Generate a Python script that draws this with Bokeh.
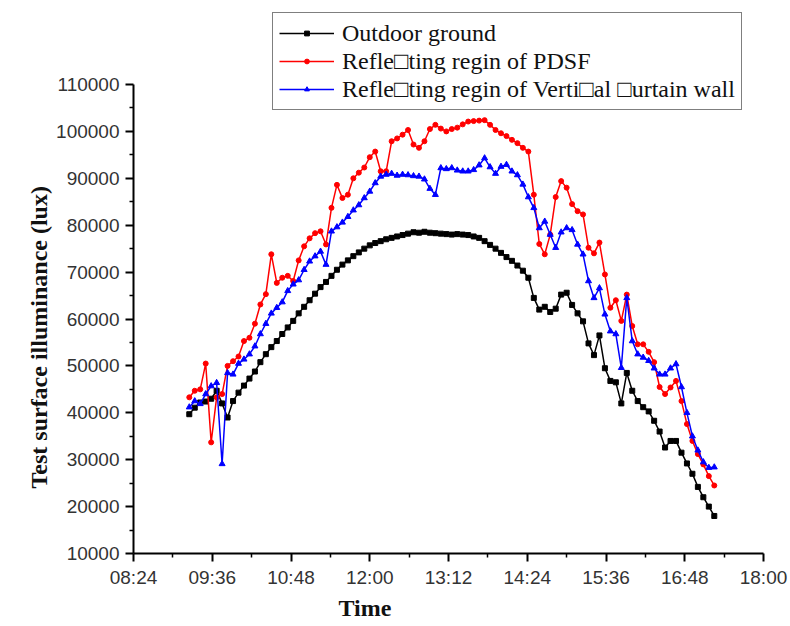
from bokeh.plotting import figure
from bokeh.models import (Range1d, FixedTicker, Legend, LegendItem, Title,
                          ColumnDataSource, BasicTickFormatter)
from bokeh.embed import file_html
from bokeh.resources import INLINE

# ---------------- data ----------------
times = [
    "09:15", "09:20", "09:25", "09:30", "09:35", "09:40", "09:45", "09:50", "09:55",
    "10:00", "10:05", "10:10", "10:15", "10:20", "10:25", "10:30", "10:35", "10:40", "10:45", "10:50", "10:55",
    "11:00", "11:05", "11:10", "11:15", "11:20", "11:25", "11:30", "11:35", "11:40", "11:45", "11:50", "11:55",
    "12:00", "12:05", "12:10", "12:15", "12:20", "12:25", "12:30", "12:35", "12:40", "12:45", "12:50", "12:55",
    "13:00", "13:05", "13:10", "13:15", "13:20", "13:25", "13:30", "13:35", "13:40", "13:45", "13:50", "13:55",
    "14:00", "14:05", "14:10", "14:15", "14:20", "14:25", "14:30", "14:35", "14:40", "14:45", "14:50", "14:55",
    "15:00", "15:05", "15:10", "15:15", "15:20", "15:25", "15:30", "15:35", "15:40", "15:45", "15:50", "15:55",
    "16:00", "16:05", "16:10", "16:15", "16:20", "16:25", "16:30", "16:35", "16:40", "16:45", "16:50", "16:55",
    "17:00", "17:05", "17:10", "17:15",
]

outdoor_ground = [
    39700, 41100, 42200, 42400, 43000, 44700, 42000, 39000, 42500,
    44300, 45800, 47300, 48800, 50800, 52500, 54000, 55300, 56800, 58200, 59600, 61200,
    62600, 64000, 65400, 66800, 67900, 69200, 70500, 71600, 72500, 73400, 74200, 75000,
    75700, 76200, 76600, 77000, 77300, 77600, 77900, 78200, 78500, 78400, 78600, 78400,
    78300, 78200, 78100, 78000, 78100, 78000, 77900, 77600, 77300, 76600, 75800, 75000,
    74100, 73200, 72400, 71400, 70300, 68800, 64500, 62000, 62600, 61500, 62200, 65200,
    65600, 63000, 61200, 59500, 54800, 52300, 56500, 49500, 46800, 46500, 42000, 48500,
    44700, 42500, 41200, 40300, 38300, 36000, 32600, 34000, 34000, 31500, 29200, 27000,
    24200, 22000, 20000, 18000,
]

pdsf = [
    43300, 44700, 45000, 50500, 33700, 43300, 44000, 50000, 51000,
    52000, 55300, 56000, 59000, 63100, 65300, 73800, 67700, 68800, 69200, 68100, 72500,
    75500, 77200, 78300, 78700, 75900, 83700, 88600, 85800, 86500, 90000, 91200, 92300,
    94500, 95700, 91500, 91500, 97900, 98500, 99300, 100300, 97200, 96500, 97900, 100500,
    101400, 100600, 100000, 100500, 100800, 101500, 102100, 102200, 102300, 102400, 101400, 100300,
    99600, 99000, 98200, 97500, 96500, 95700, 86500, 76000, 73800, 78000, 86000, 89400,
    88000, 84500, 83000, 82300, 75200, 74000, 76300, 69500, 62400, 64000, 59600, 65200,
    58500, 54600, 54600, 53000, 50800, 45500, 44000, 45400, 46800, 42500, 37600, 34000,
    31200, 29000, 26500, 24500,
]

curtain_wall = [
    41200, 42500, 41900, 44000, 45700, 46400, 29100, 48500, 48200,
    50500, 51400, 52500, 54200, 56800, 59000, 61200, 62400, 63600, 66000, 67400, 68300,
    70500, 72300, 73400, 74400, 71600, 78700, 79600, 80600, 81800, 83200, 84300, 85800,
    87200, 89000, 90400, 90800, 91000, 90600, 90800, 90700, 90500, 90400, 89800, 87800,
    86500, 92200, 92000, 92200, 91700, 91500, 91500, 91800, 92800, 94300, 92400, 91000,
    92500, 92900, 91500, 90700, 88700, 86000, 83700, 79400, 80800, 78000, 75200, 78500,
    79400, 79000, 75900, 73800, 68100, 64500, 66600, 61000, 57400, 56800, 49600, 64500,
    55300, 52500, 51800, 51100, 49500, 48200, 48200, 49500, 50400, 45500, 40000, 35000,
    32000, 29500, 28300, 28400,
]

series_names = [
    "Outdoor ground",
    "Refle\u25a1ting regin of PDSF",
    "Refle\u25a1ting regin of Verti\u25a1al \u25a1urtain wall",
]

x_tick_labels = ["08:24", "09:36", "10:48", "12:00", "13:12", "14:24", "15:36", "16:48", "18:00"]
y_tick_values = [10000, 20000, 30000, 40000, 50000, 60000, 70000, 80000, 90000, 100000, 110000]


def to_min(s):
    h, m = s.split(":")
    return int(h) * 60 + int(m)


xs = [to_min(t) for t in times]
x_ticks = [to_min(t) for t in x_tick_labels]
x_minor = [(a + b) / 2 for a, b in zip(x_ticks[:-1], x_ticks[1:])]
y_minor = [(a + b) / 2 for a, b in zip(y_tick_values[:-1], y_tick_values[1:])]

src = ColumnDataSource(dict(x=xs, a=outdoor_ground, b=pdsf, c=curtain_wall))

# ---------------- layout ----------------
# frame spans px 10..553 vertically; axis values 10000..110000 occupy px 84..553
FRAME_TOP, AXIS_TOP, FRAME_BOTTOM = 10, 84, 553
y_lo, y_hi = y_tick_values[0], y_tick_values[-1]
per_px = (y_hi - y_lo) / (FRAME_BOTTOM - AXIS_TOP)
y_top = y_lo + (FRAME_BOTTOM - FRAME_TOP) * per_px

p = figure(width=790, height=626, output_backend="svg", toolbar_location=None,
           x_range=Range1d(x_ticks[0], x_ticks[-1]),
           y_range=Range1d(y_lo, y_top),
           min_border_left=133, min_border_right=27,
           min_border_top=FRAME_TOP, min_border_bottom=626 - FRAME_BOTTOM)
p.outline_line_color = None
p.xgrid.visible = False
p.ygrid.visible = False
p.background_fill_color = "white"
p.border_fill_color = "white"

p.xaxis.ticker = FixedTicker(ticks=x_ticks, minor_ticks=x_minor)
p.xaxis.major_label_overrides = {v: lab for v, lab in zip(x_ticks, x_tick_labels)}
p.yaxis.ticker = FixedTicker(ticks=y_tick_values, minor_ticks=y_minor)
p.yaxis.formatter = BasicTickFormatter(use_scientific=False)
p.yaxis.bounds = (y_lo, y_hi)

for ax in (p.xaxis[0], p.yaxis[0]):
    ax.axis_line_width = 2
    ax.axis_line_color = "black"
    ax.major_tick_line_width = 2
    ax.minor_tick_line_width = 1.5
    ax.major_tick_out = 8
    ax.major_tick_in = 0
    ax.minor_tick_out = 4
    ax.minor_tick_in = 0
    ax.major_label_text_font = "Liberation Sans"
    ax.major_label_text_font_size = "19px"
    ax.major_label_text_color = "#333333"
p.xaxis.major_label_standoff = 5
p.yaxis.major_label_standoff = 6

colors = ["black", "red", "blue"]
markers = ["square", "circle", "triangle"]
sizes = [5, 5, 6]
cols = ["a", "b", "c"]

items = []
for name, col, color, mk, sz in zip(series_names, cols, colors, markers, sizes):
    ln = p.line("x", col, source=src, line_color=color, line_width=1.5)
    sc = p.scatter("x", col, source=src, marker=mk, size=sz,
                   fill_color=color, line_color=color)
    items.append(LegendItem(label=name, renderers=[ln, sc]))

legend = Legend(items=items, location=(139, FRAME_BOTTOM - 110),
                border_line_color="black", border_line_width=1.5,
                background_fill_color="white", background_fill_alpha=1.0,
                label_text_font="Liberation Serif", label_text_font_size="24px",
                label_text_color="#111111",
                glyph_width=55, glyph_height=12, label_height=28,
                padding=6, spacing=0, label_standoff=8, margin=0)
p.add_layout(legend)

p.add_layout(Title(text="Time", align="left", offset=205,
                   text_font="Liberation Serif", text_font_style="bold",
                   text_font_size="24px", text_color="#111111", standoff=4), "below")
p.add_layout(Title(text="Test surface illuminance (lux)", align="left", offset=65,
                   text_font="Liberation Serif", text_font_style="bold",
                   text_font_size="24px", text_color="#111111", standoff=4), "left")

open("out.html", "w").write(file_html(p, INLINE))
